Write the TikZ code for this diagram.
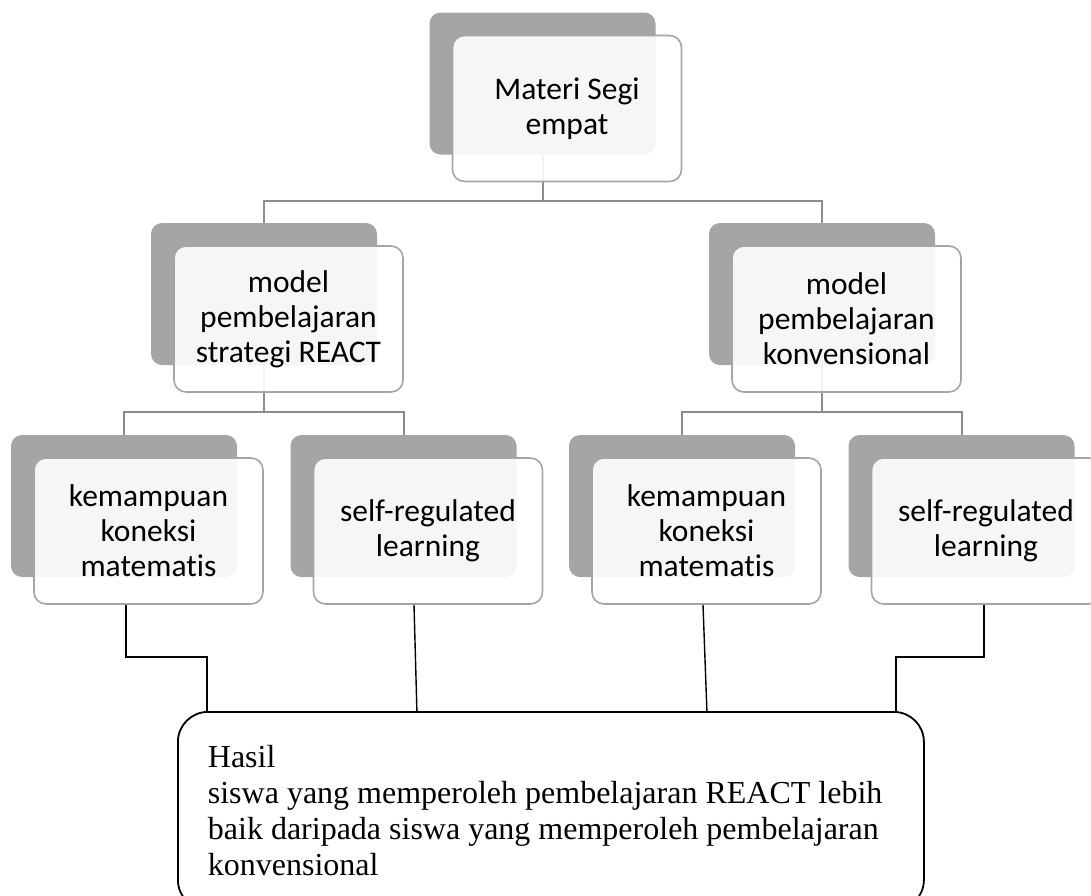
\documentclass[tikz,border=0pt]{standalone}
\usepackage{fontspec}
\setmainfont{Liberation Serif}
\newfontfamily\boxfont[Ligatures=NoCommon]{Carlito}
\usetikzlibrary{backgrounds}
\definecolor{backgray}{HTML}{A5A5A5}
\definecolor{linkgray}{HTML}{8C8C8C}
\tikzset{
  backbox/.style={fill=backgray, rounded corners=11pt, minimum width=226pt,
    minimum height=142pt, inner sep=0pt},
  frontbox/.style={draw=backgray, line width=1.6pt, fill=white, fill opacity=0.9,
    text opacity=1, rounded corners=12pt, minimum width=229pt, minimum height=146pt,
    inner sep=0pt, align=center, font=\boxfont\fontsize{31.5}{35}\selectfont},
  branch/.style={draw=linkgray, line width=2pt},
  result/.style={draw=black, line width=1.4pt},
  hasilbox/.style={draw=black, line width=1.8pt, rounded corners=30pt,
    anchor=north west, minimum height=198pt, text width=686pt, inner xsep=30pt,
    inner ysep=0pt, align=flush left, font=\fontsize{32}{36}\selectfont}
}
\begin{document}
\begin{tikzpicture}
    [x=1pt,y=-1pt]
    \useasboundingbox (0,0) rectangle (1091,895);
    %top box
    \node[backbox] (topback) at (542.5,83.5) {};
    \node[frontbox] (top) at (567,108.5) {Materi Segi\\empat};
    %middle boxes
    \node[backbox] (reactback) at (264,294) {};
    \node[frontbox] (react) at (288.5,319) {model\\pembelajaran\\strategi REACT};
    \node[backbox] (konvback) at (822,294) {};
    \node[frontbox] (konv) at (846.5,319) {model\\pembelajaran\\konvensional};
    %bottom boxes
    \node[backbox] (kk1back) at (124,506) {};
    \node[frontbox] (kk1) at (148.5,531) {kemampuan\\koneksi\\matematis};
    \node[backbox] (srl1back) at (403.5,506) {};
    \node[frontbox] (srl1) at (428,531) {self-regulated\\learning};
    \node[backbox] (kk2back) at (682,506) {};
    \node[frontbox] (kk2) at (706.5,531) {kemampuan\\koneksi\\matematis};
    \node[backbox] (srl2back) at (961.5,506) {};
    \node[frontbox] (srl2) at (986,531) {self-regulated\\learning};
    %result box
    \node[hasilbox] (hasil) at (177,711) {Hasil\\siswa yang memperoleh pembelajaran REACT lebih\\baik daripada siswa yang memperoleh pembelajaran\\konvensional};
    %gray connectors
    \begin{scope}[on background layer]
    \draw[branch] (topback.south) -- ++(0,46) -| (reactback.north);
    \draw[branch] (topback.south) -- ++(0,46) -| (konvback.north);
    \draw[branch] (reactback.south) -- ++(0,47) -| (kk1back.north);
    \draw[branch] (reactback.south) -- ++(0,47) -| (srl1back.north);
    \draw[branch] (konvback.south) -- ++(0,47) -| (kk2back.north);
    \draw[branch] (konvback.south) -- ++(0,47) -| (srl2back.north);
    \end{scope}
    %black lines to result
    \draw[result] ([xshift=-22.5pt]kk1.south) -- ++(0,52) -| ([xshift=30pt]hasil.north west);
    \draw[result] ([xshift=-14pt]srl1.south) -- ([xshift=-134pt]hasil.north);
    \draw[result] ([xshift=-3.5pt]kk2.south) -- ([xshift=156pt]hasil.north);
    \draw[result] ([xshift=-2pt]srl2.south) -- ++(0,52) -| ([xshift=-29pt]hasil.north east);
\end{tikzpicture}
\end{document}
